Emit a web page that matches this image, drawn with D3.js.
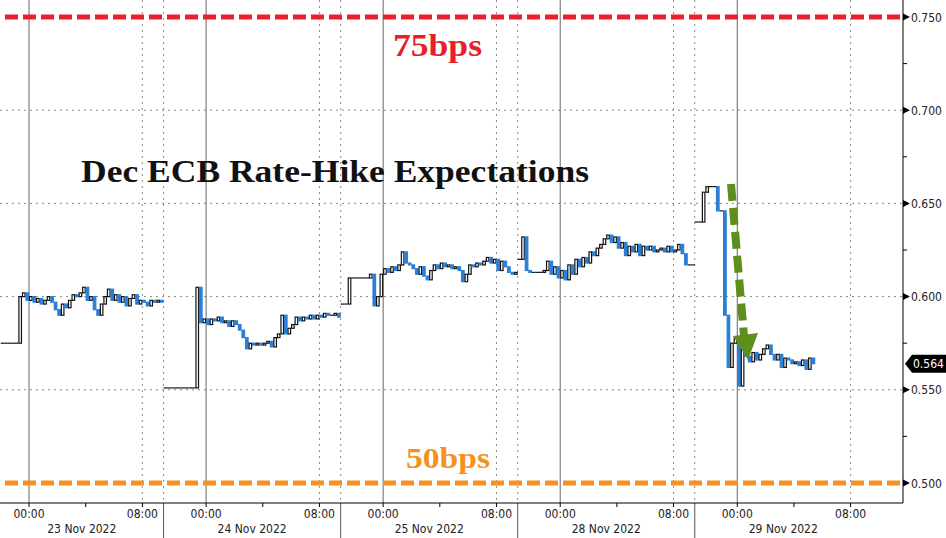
<!DOCTYPE html>
<html>
<head>
<meta charset="utf-8">
<script src="https://cdn.jsdelivr.net/npm/d3@7"></script>
<style>
  body { margin: 0; background: #fff; }
  svg { display: block; }
  .ax text { font-family: "DejaVu Sans Condensed", "DejaVu Sans", sans-serif; font-size: 12px; fill: #222; }
</style>
</head>
<body>
<svg id="chart" width="946" height="538"></svg>
<script>
// sessions (21:00 previous evening to ~09:30), 15 minute bars
const dayLabels = ['23 Nov 2022', '24 Nov 2022', '25 Nov 2022', '28 Nov 2022', '29 Nov 2022'];
const sessionStart = [-2, -3, -3, -3, -3]; // hour of the first bar
const day0 = [0.575, 0.575, 0.575, 0.575, 0.575, 0.600, 0.602, 0.598, 0.600,
  0.597, 0.599, 0.596, 0.598, 0.600, 0.597, 0.593, 0.590, 0.596, 0.594, 0.598, 0.601,
  0.600, 0.602, 0.605, 0.598, 0.600, 0.593, 0.590, 0.596, 0.600, 0.604, 0.598, 0.601,
  0.597, 0.600, 0.595, 0.599, 0.601, 0.596, 0.598, 0.597, 0.595, 0.598, 0.597, 0.598, 0.597];
const day1 = [0.551, 0.551, 0.551, 0.551, 0.551, 0.551, 0.551, 0.551, 0.551, 0.605, 0.586, 0.588, 0.585,
  0.588, 0.587, 0.589, 0.586, 0.587, 0.584, 0.587, 0.585, 0.582, 0.578, 0.572, 0.575,
  0.574, 0.575, 0.574, 0.575, 0.576, 0.573, 0.578, 0.580, 0.590, 0.580, 0.583, 0.585,
  0.589, 0.587, 0.589, 0.588, 0.590, 0.588, 0.590, 0.589, 0.591, 0.590, 0.590, 0.591, 0.589];
const day2 = [0.596, 0.596, 0.610, 0.610, 0.610, 0.610, 0.610, 0.610, 0.612, 0.595, 0.600, 0.612, 0.615,
  0.613, 0.616, 0.614, 0.617, 0.624, 0.618, 0.617, 0.615, 0.612, 0.616, 0.611, 0.609,
  0.614, 0.617, 0.615, 0.618, 0.616, 0.617, 0.615, 0.616, 0.614, 0.608, 0.612, 0.617,
  0.616, 0.618, 0.617, 0.619, 0.621, 0.618, 0.620, 0.614, 0.619, 0.616, 0.613, 0.612, 0.613];
const day3 = [0.620, 0.632, 0.614, 0.613, 0.613, 0.613, 0.613, 0.614, 0.619, 0.612, 0.616, 0.610, 0.614,
  0.609, 0.617, 0.612, 0.620, 0.616, 0.621, 0.618, 0.624, 0.622, 0.626, 0.628, 0.631,
  0.633, 0.629, 0.632, 0.626, 0.629, 0.622, 0.627, 0.624, 0.628, 0.622, 0.627, 0.625,
  0.627, 0.624, 0.625, 0.626, 0.624, 0.627, 0.624, 0.625, 0.628, 0.623, 0.617, 0.617, 0.617];
const day4 = [0.640, 0.640, 0.656, 0.659, 0.659, 0.659, 0.646, 0.646, 0.590, 0.562, 0.575, 0.578, 0.552,
  0.572, 0.568, 0.565, 0.570, 0.566, 0.569, 0.572, 0.574, 0.569, 0.566, 0.569, 0.562,
  0.567, 0.566, 0.564, 0.565, 0.563, 0.566, 0.561, 0.567, 0.564];
const closes = [day0, day1, day2, day3, day4];
const yTicks = [0.50, 0.55, 0.60, 0.65, 0.70, 0.75];
const labelHours = [0, 8];
const lastValue = 0.564;

const W = 946, H = 538;
const plotR = 903, plotB = 503;
const svg = d3.select('#chart');

// each session is 12.5 hours wide, 21:00 -> 09:30
const sessionLen = 12.5;
const tOf = (day, h) => day * sessionLen + h + 3;
const x = d3.scaleLinear().domain([0.95, 64.7]).range([0, plotR]);
const y = d3.scaleLinear().domain([0.5, 0.75]).range([483, 17]);

// grid
const grid = svg.append('g');
grid.selectAll('line.h')
  .data(yTicks.filter(v => v > 0.5 && v < 0.75))
  .enter().append('line')
  .attr('x1', 0).attr('x2', plotR)
  .attr('y1', d => y(d)).attr('y2', d => y(d))
  .attr('stroke', '#888').attr('stroke-dasharray', '2,4');

dayLabels.forEach((lab, i) => {
  // 00:00 solid
  grid.append('line')
    .attr('x1', x(tOf(i, 0))).attr('x2', x(tOf(i, 0)))
    .attr('y1', 0).attr('y2', plotB)
    .attr('stroke', '#666');
  // 08:00 dotted
  grid.append('line')
    .attr('x1', x(tOf(i, 8))).attr('x2', x(tOf(i, 8)))
    .attr('y1', 0).attr('y2', plotB)
    .attr('stroke', '#888').attr('stroke-dasharray', '2,4');
  // session end
  if (i < dayLabels.length - 1) {
    const xe = x(tOf(i, 9.5));
    grid.append('line')
      .attr('x1', xe).attr('x2', xe)
      .attr('y1', 0).attr('y2', plotB)
      .attr('stroke', '#888').attr('stroke-dasharray', '2,4');
    grid.append('line')
      .attr('x1', xe).attr('x2', xe)
      .attr('y1', plotB).attr('y2', H)
      .attr('stroke', '#555');
  }
});

// 75bps / 50bps levels
svg.append('line')
  .attr('x1', 5).attr('x2', plotR)
  .attr('y1', y(0.75)).attr('y2', y(0.75))
  .attr('stroke', '#e8202c').attr('stroke-width', 5).attr('stroke-dasharray', '13,5');
svg.append('line')
  .attr('x1', 5).attr('x2', plotR)
  .attr('y1', y(0.5)).attr('y2', y(0.5))
  .attr('stroke', '#f5921e').attr('stroke-width', 5).attr('stroke-dasharray', '13,5');

// candles: open = previous close in the same session
const bars = [];
closes.forEach((arr, d) => {
  arr.forEach((c, k) => {
    const h = sessionStart[d] + k * 0.25;
    const o = k === 0 ? c : arr[k - 1];
    bars.push({ t: tOf(d, h), o, c });
  });
});
const bw = x(0.25) - x(0);
const g = svg.append('g');
g.selectAll('rect.bar')
  .data(bars.filter(b => b.o !== b.c))
  .enter().append('rect')
  .attr('class', 'bar')
  .attr('x', d => x(d.t) + 0.5)
  .attr('width', bw - 1)
  .attr('y', d => y(Math.max(d.o, d.c)))
  .attr('height', d => Math.abs(y(d.o) - y(d.c)))
  .attr('fill', d => d.c > d.o ? '#fff' : '#2a7fd6')
  .attr('stroke', d => d.c > d.o ? '#111' : '#2a7fd6')
  .attr('stroke-width', 1.2);
g.selectAll('line.flat')
  .data(bars.filter(b => b.o === b.c))
  .enter().append('line')
  .attr('x1', d => x(d.t)).attr('x2', d => x(d.t) + bw)
  .attr('y1', d => y(d.c)).attr('y2', d => y(d.c))
  .attr('stroke', '#111').attr('stroke-width', 1.2);

// y axis (right)
const yAx = svg.append('g').attr('class', 'ax');
yAx.append('line').attr('x1', plotR).attr('x2', plotR).attr('y1', 0).attr('y2', plotB).attr('stroke', '#000');
yTicks.forEach(v => {
  const yy = y(v);
  yAx.append('path')
    .attr('d', `M${plotR},${yy - 3.5}L${plotR + 7},${yy}L${plotR},${yy + 3.5}Z`)
    .attr('fill', '#000');
  yAx.append('text')
    .attr('x', plotR + 8).attr('y', yy + 4.5)
    .text(d3.format('.3f')(v));
});
d3.range(0.525, 0.75, 0.05).forEach(v => {
  yAx.append('line')
    .attr('x1', plotR).attr('x2', plotR + 4)
    .attr('y1', y(v)).attr('y2', y(v))
    .attr('stroke', '#000');
});

// last value tag
const ly = y(lastValue);
yAx.append('path')
  .attr('d', `M${plotR + 2},${ly}L${plotR + 9},${ly - 9}L${W},${ly - 9}L${W},${ly + 9}L${plotR + 9},${ly + 9}Z`)
  .attr('fill', '#000');
yAx.append('text')
  .attr('x', plotR + 10).attr('y', ly + 4.5)
  .attr('fill', '#fff').style('fill', '#fff')
  .text(d3.format('.3f')(lastValue));

// x axis
const xAx = svg.append('g').attr('class', 'ax');
xAx.append('line').attr('x1', 0).attr('x2', plotR).attr('y1', plotB).attr('y2', plotB).attr('stroke', '#000');
dayLabels.forEach((lab, i) => {
  [0, 4, 8].forEach(h => {
    xAx.append('line')
      .attr('x1', x(tOf(i, h))).attr('x2', x(tOf(i, h)))
      .attr('y1', plotB).attr('y2', plotB + 4)
      .attr('stroke', '#000');
  });
  labelHours.forEach(h => {
    xAx.append('text')
      .attr('x', x(tOf(i, h))).attr('y', plotB + 15)
      .attr('text-anchor', 'middle')
      .text(d3.format('02d')(h) + ':00');
  });
  const a = Math.max(0, x(tOf(i, -3)));
  const b = Math.min(plotR, x(tOf(i, 9.5)));
  xAx.append('text')
    .attr('x', (a + b) / 2).attr('y', plotB + 30)
    .attr('text-anchor', 'middle')
    .text(lab);
});

// annotations
const serif = '"Liberation Serif", "Times New Roman", serif';
svg.append('text')
  .attr('x', 393).attr('y', 56)
  .attr('textLength', 89).attr('lengthAdjust', 'spacingAndGlyphs')
  .style('font-family', serif).style('font-weight', 'bold').style('font-size', '31px')
  .attr('fill', '#e8202c').text('75bps');
svg.append('text')
  .attr('x', 406).attr('y', 468)
  .attr('textLength', 84).attr('lengthAdjust', 'spacingAndGlyphs')
  .style('font-family', serif).style('font-weight', 'bold').style('font-size', '30px')
  .attr('fill', '#f5921e').text('50bps');
svg.append('text')
  .attr('x', 81).attr('y', 182)
  .attr('textLength', 508).attr('lengthAdjust', 'spacingAndGlyphs')
  .style('font-family', serif).style('font-weight', 'bold').style('font-size', '31px')
  .attr('fill', '#111').text('Dec ECB Rate-Hike Expectations');

// green arrow
svg.append('line')
  .attr('x1', 731).attr('y1', 184).attr('x2', 744).attr('y2', 336)
  .attr('stroke', '#5e8f1d').attr('stroke-width', 8).attr('stroke-dasharray', '17,7');
svg.append('path')
  .attr('d', 'M733,336L758,333L748,360Z')
  .attr('fill', '#5e8f1d');
</script>
</body>
</html>
